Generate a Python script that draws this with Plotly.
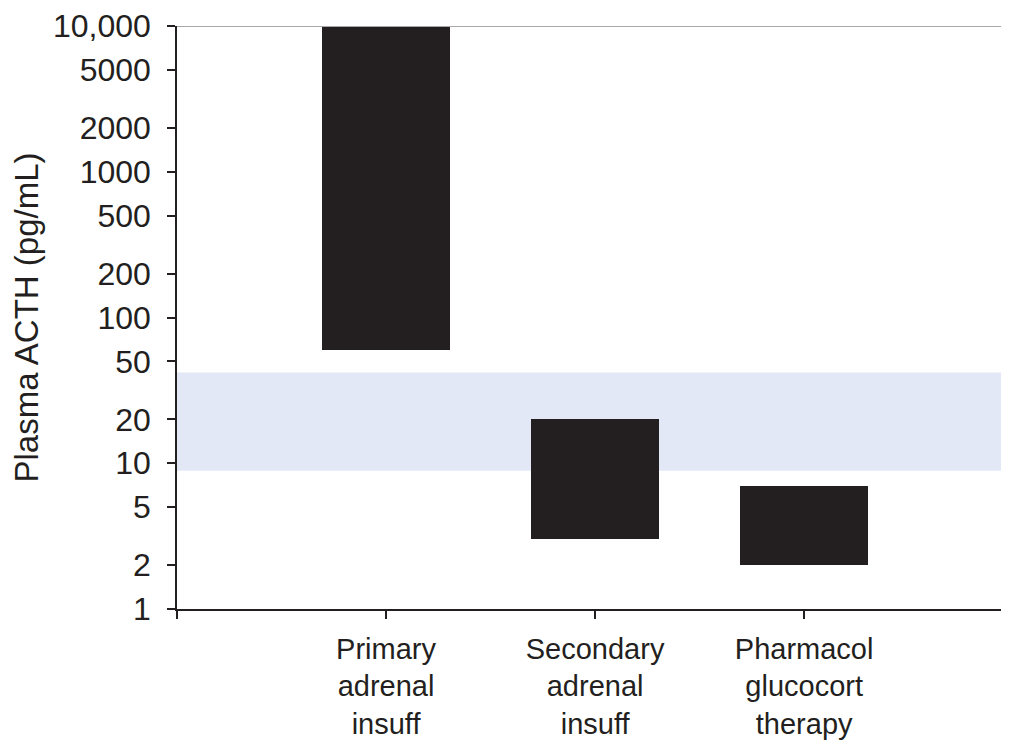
import plotly.graph_objects as go

categories = ["Primary<br>adrenal<br>insuff", "Secondary<br>adrenal<br>insuff", "Pharmacol<br>glucocort<br>therapy"]
cat_pos = [1, 2, 3]
range_low = [60, 3, 2]
range_high = [10000, 20, 7]
normal_low = 8.9
normal_high = 42
y_tickvals = [1, 2, 5, 10, 20, 50, 100, 200, 500, 1000, 2000, 5000, 10000]
y_ticktext = ["1", "2", "5", "10", "20", "50", "100", "200", "500", "1000", "2000", "5000", "10,000"]

ink = "#231f20"
font_family = "Liberation Sans, Arial, Helvetica, sans-serif"

fig = go.Figure()
fig.add_trace(go.Bar(
    x=cat_pos,
    y=[h - l for h, l in zip(range_high, range_low)],
    base=range_low,
    width=0.61,
    marker=dict(color=ink, line=dict(width=0)),
    hoverinfo="skip",
    showlegend=False,
))

# normal range band
fig.add_shape(type="rect", xref="paper", yref="y", x0=0, x1=1,
              y0=normal_low, y1=normal_high,
              fillcolor="#e3e8f6", line=dict(width=0), layer="below")
# top gray line
fig.add_shape(type="line", xref="paper", yref="y", x0=0, x1=1,
              y0=10000, y1=10000, line=dict(color="#a8a8a8", width=2))

fig.update_layout(
    width=1001, height=740,
    margin=dict(l=169, r=0, t=16, b=139),
    paper_bgcolor="white", plot_bgcolor="white",
    font=dict(family=font_family, color=ink, size=29),
    bargap=0,
)
fig.update_xaxes(
    range=[0, 3.98],
    tickvals=[0] + cat_pos,
    ticktext=[""] + categories,
    ticks="outside", ticklen=8, tickwidth=1.5, tickcolor=ink,
    showline=True, linecolor=ink, linewidth=1.5,
    showgrid=False, zeroline=False,
    tickfont=dict(size=29),
    ticklabelstandoff=5,
    ticklabeloverflow="allow",
)
fig.update_yaxes(
    type="log",
    range=[0, 4],
    tickvals=y_tickvals,
    ticktext=y_ticktext,
    ticks="outside", ticklen=8, tickwidth=1.5, tickcolor=ink,
    showline=True, linecolor=ink, linewidth=1.5,
    showgrid=False, zeroline=False,
    tickfont=dict(size=32),
    ticklabelstandoff=10,
    ticklabeloverflow="allow",
    title=dict(text="Plasma ACTH (pg/mL)", font=dict(size=33), standoff=14),
)

fig.write_html("out.html")
